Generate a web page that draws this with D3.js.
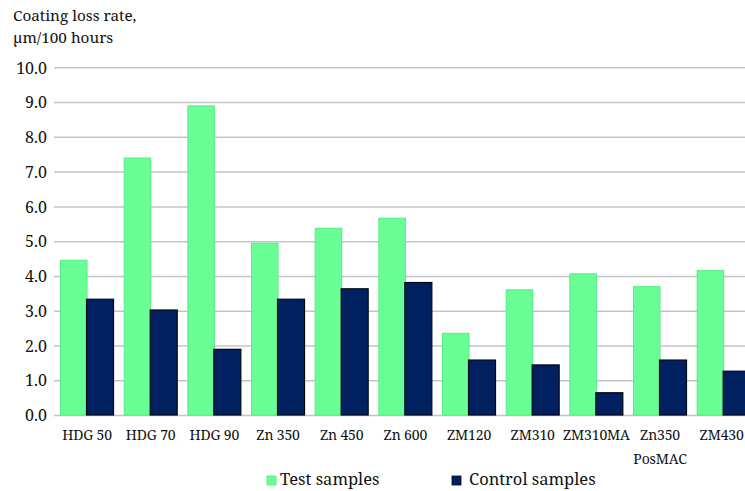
<!DOCTYPE html>
<html>
<head>
<meta charset="utf-8">
<script src="https://cdn.jsdelivr.net/npm/d3@7"></script>
<style>
  html, body { margin: 0; padding: 0; background: #fff; overflow: hidden; }
  svg { display: block; }
  svg text { font-family: "Noto Serif", "Liberation Serif", serif; fill: #111; }
</style>
</head>
<body>
<svg id="chart" width="745" height="491"></svg>
<script>
// Coating loss rate by coating type, µm per 100 hours
const categories = ["HDG 50", "HDG 70", "HDG 90", "Zn 350", "Zn 450", "Zn 600",
                    "ZM120", "ZM310", "ZM310MA", "Zn350\nPosMAC", "ZM430"];
const testSamples    = [4.45, 7.39, 8.89, 4.94, 5.37, 5.66, 2.35, 3.60, 4.06, 3.69, 4.15];
const controlSamples = [3.33, 3.02, 1.89, 3.33, 3.63, 3.81, 1.58, 1.44, 0.64, 1.58, 1.26];
const yTicks = [0, 1, 2, 3, 4, 5, 6, 7, 8, 9, 10];
const seriesNames = ["Test samples", "Control samples"];
const titleLines = ["Coating loss rate,", "µm/100 hours"];

const colors = { test: "#69ff96", testStroke: "#52ee80", control: "#002060", controlStroke: "#000814" };

const svg = d3.select("#chart");

const y = d3.scaleLinear().domain([0, 10]).range([415, 67.3]);
const x = d3.scaleBand()
  .domain(categories)
  .range([55.2, 755.5])
  .paddingInner(0.152)
  .paddingOuter(0.076);
const half = x.bandwidth() / 2;

// axis title
svg.append("g").selectAll("text")
  .data(titleLines).join("text")
  .attr("x", 13)
  .attr("y", (d, i) => 21 + i * 21.5)
  .attr("font-size", 15.3)
  .text(d => d);

// horizontal gridlines and value labels
const yAxis = d3.axisLeft(y)
  .tickValues(yTicks)
  .tickFormat(d3.format(".1f"))
  .tickSize(-(745 - 54))
  .tickPadding(7);

const gy = svg.append("g")
  .attr("transform", "translate(54,0)")
  .call(yAxis);
gy.select(".domain").remove();
gy.selectAll(".tick line").attr("stroke", "#c4c4c4").attr("stroke-width", 1.5);
gy.selectAll(".tick text")
  .attr("font-size", 16)
  .attr("font-family", null)
  .attr("dy", "0.36em");

// bars
const groups = svg.append("g").selectAll("g")
  .data(categories).join("g")
  .attr("transform", d => `translate(${x(d)},0)`);

groups.append("rect")
  .attr("x", 0.5)
  .attr("y", (d, i) => y(testSamples[i]))
  .attr("width", half - 0.5)
  .attr("height", (d, i) => y(0) - y(testSamples[i]))
  .attr("fill", colors.test)
  .attr("stroke", colors.testStroke)
  .attr("stroke-width", 1);

groups.append("rect")
  .attr("x", half - 0.5)
  .attr("y", (d, i) => y(controlSamples[i]))
  .attr("width", half)
  .attr("height", (d, i) => y(0) - y(controlSamples[i]))
  .attr("fill", colors.control)
  .attr("stroke", colors.controlStroke)
  .attr("stroke-width", 1.2);

// category labels
const xAxis = d3.axisBottom(x).tickSize(0).tickPadding(0);
const gx = svg.append("g")
  .attr("transform", `translate(0,${y(0)})`)
  .call(xAxis);
gx.select(".domain").remove();
gx.selectAll(".tick text").each(function (d) {
  const t = d3.select(this);
  const lines = d.split("\n");
  t.text(null)
    .attr("font-size", 14)
    .attr("font-family", null)
    .attr("letter-spacing", -0.15)
    .attr("y", 0)
    .attr("dy", null);
  lines.forEach((ln, i) => {
    t.append("tspan").attr("x", 0).attr("y", 25 + i * 23.5).text(ln);
  });
});
// keep the last label inside the right edge
gx.selectAll(".tick").each(function () {
  const g = d3.select(this);
  const box = this.getBoundingClientRect();
  if (box.right > 744) {
    const m = /translate\(([-\d.]+)/.exec(g.attr("transform"));
    g.attr("transform", `translate(${+m[1] - (box.right - 744)},0)`);
  }
});

// legend
const legendItems = [
  { name: seriesNames[0], fill: colors.test, stroke: colors.testStroke, x: 267, tx: 13 },
  { name: seriesNames[1], fill: colors.control, stroke: colors.controlStroke, x: 452, tx: 17 }
];
const lg = svg.append("g").selectAll("g")
  .data(legendItems).join("g")
  .attr("transform", d => `translate(${d.x},476)`);
lg.append("rect")
  .attr("width", 9).attr("height", 9)
  .attr("fill", d => d.fill)
  .attr("stroke", d => d.stroke)
  .attr("stroke-width", 0.8);
lg.append("text")
  .attr("x", d => d.tx)
  .attr("y", 9)
  .attr("font-size", 16.5)
  .text(d => d.name);
</script>
</body>
</html>
